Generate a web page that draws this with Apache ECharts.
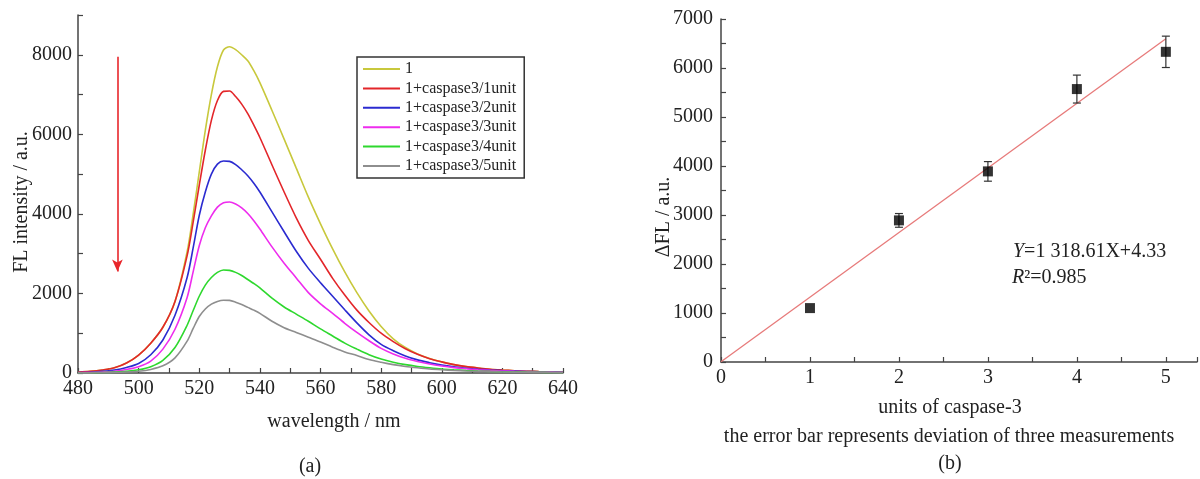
<!DOCTYPE html>
<html>
<head>
<meta charset="utf-8">
<script src="https://cdn.jsdelivr.net/npm/echarts@6/dist/echarts.min.js"></script>
<style>
html,body{margin:0;padding:0;background:#fff;}
#c{width:1200px;height:479px;}
</style>
</head>
<body>
<div id="c"></div>
<script>
// ---- Panel (a): fluorescence spectra ----
const wavelengths = [480,484,488,492,496,500,504,508,512,516,
  518,520,522,524,526,528,530,532,534,536,538,540,
  544,548,552,556,560,564,568,572,576,580,584,588,592,596,600,604,608,612,616,620,624,628,632,636,640];
const seriesNames = ['1','1+caspase3/1unit','1+caspase3/2unit','1+caspase3/3unit','1+caspase3/4unit','1+caspase3/5unit'];
const fl_0 = [20,40,75,130,250,450,750,1150,1800,3050,
  4000,5050,6100,7000,7700,8120,8200,8130,8000,7850,7600,7300,
  6600,5880,5150,4420,3750,3120,2540,2020,1560,1170,860,640,480,365,280,210,160,125,95,75,58,45,35,28,22];
const fl_1 = [20,40,75,130,250,450,750,1150,1800,2950,
  3800,4720,5600,6350,6850,7080,7090,6950,6760,6520,6230,5920,
  5230,4550,3900,3330,2860,2380,1960,1580,1270,1000,790,610,470,360,280,210,160,125,95,75,58,45,35,28,22];
const fl_2 = [10,20,40,75,140,240,460,830,1450,2400,
  3150,3960,4550,5000,5250,5330,5320,5240,5110,4960,4770,4550,
  4050,3550,3060,2630,2270,1930,1590,1260,960,720,560,430,330,260,200,155,120,95,75,60,48,38,30,24,18];
const fl_3 = [5,12,25,45,90,160,300,600,1100,1900,
  2550,3200,3650,3950,4170,4280,4300,4250,4150,4010,3830,3620,
  3170,2760,2390,2020,1740,1500,1250,1020,810,620,480,370,290,225,175,135,105,82,65,52,42,34,27,21,16];
const fl_4 = [3,6,12,22,40,80,160,320,640,1200,
  1570,1930,2210,2400,2530,2590,2580,2530,2450,2350,2250,2140,
  1880,1660,1480,1300,1110,930,750,600,460,350,270,210,165,130,100,80,63,50,40,32,26,21,17,13,10];
const fl_5 = [2,4,8,14,25,45,90,180,380,800,
  1120,1420,1610,1730,1800,1830,1825,1780,1720,1650,1580,1500,
  1300,1140,1020,900,780,650,530,440,340,270,210,165,130,100,80,64,51,41,33,27,22,18,14,11,9];
const flSeries = [fl_0, fl_1, fl_2, fl_3, fl_4, fl_5];
const flColors = ['#c8c83c','#e3262a','#2b2bd0','#ee2cee','#2ed82e','#8e8e8e'];
const arrowFrom = [493, 7950];
const arrowTo = [493, 2550];

// ---- Panel (b): calibration ----
const units = [1,2,3,4,5];
const deltaFL = [1100,2890,3890,5570,6330];
const deltaErr = [0,140,200,285,320];
const fitX = [0,5];
const fitY = [4.33,6597.38];

const FONT = 'Liberation Serif';
const AX = '#444';

const chart = echarts.init(document.getElementById('c'), null, {renderer:'canvas'});

const lineSeries = flSeries.map((arr, i) => ({
  name: seriesNames[i],
  type: 'line',
  xAxisIndex: 0, yAxisIndex: 0,
  data: wavelengths.map((w, k) => [w, arr[k]]),
  smooth: 0.3,
  showSymbol: false,
  symbol: 'none',
  lineStyle: {color: flColors[i], width: 1.6},
  itemStyle: {color: flColors[i]},
  z: 2 + i,
  markLine: i === 0 ? {
    silent: true,
    symbol: ['none','arrow'],
    symbolSize: [8, 12],
    label: {show: false},
    lineStyle: {color: '#e8262b', width: 1.6, type: 'solid'},
    data: [[{coord: arrowFrom}, {coord: arrowTo}]]
  } : undefined
}));

const axisCommon = {
  axisLine: {show: true, lineStyle: {color: AX, width: 1.5}},
  axisTick: {show: true, inside: true, length: 5, lineStyle: {color: AX, width: 1.2}},
  splitLine: {show: false},
  axisLabel: {color: '#222', fontFamily: FONT, fontSize: 20}
};

const option = {
  animation: false,
  backgroundColor: '#fff',
  grid: [
    {left: 78, top: 15, width: 485, height: 358},
    {left: 721, top: 19, width: 479, height: 343}
  ],
  xAxis: [
    Object.assign({}, axisCommon, {
      gridIndex: 0, type: 'value', min: 480, max: 640, interval: 10,
      axisLabel: Object.assign({}, axisCommon.axisLabel, {margin: 6,
        formatter: v => (v % 20 === 0 ? String(v) : '')})
    }),
    Object.assign({}, axisCommon, {
      gridIndex: 1, type: 'value', min: 0, max: 5.35, interval: 0.5,
      axisLabel: Object.assign({}, axisCommon.axisLabel, {margin: 6,
        formatter: v => (Math.abs(v - Math.round(v)) < 1e-9 ? String(Math.round(v)) : '')})
    })
  ],
  yAxis: [
    Object.assign({}, axisCommon, {
      gridIndex: 0, type: 'value', min: 0, max: 9000, interval: 1000,
      axisLabel: Object.assign({}, axisCommon.axisLabel, {margin: 6,
        formatter: v => (v % 2000 === 0 ? String(v) : '')})
    }),
    Object.assign({}, axisCommon, {
      gridIndex: 1, type: 'value', min: 0, max: 7000, interval: 500,
      axisLabel: Object.assign({}, axisCommon.axisLabel, {margin: 8,
        formatter: v => (v % 1000 === 0 ? String(v) : '')})
    })
  ],
  legend: {
    show: true,
    orient: 'vertical',
    left: 357, top: 57,
    padding: [4, 8, 4, 6],
    itemGap: 3.4,
    itemWidth: 37,
    itemHeight: 2,
    icon: 'rect',
    borderColor: '#333',
    borderWidth: 1.5,
    backgroundColor: '#fff',
    textStyle: {fontFamily: FONT, fontSize: 16, color: '#222'},
    data: seriesNames
  },
  series: lineSeries.concat([
    {
      name: 'fit', type: 'line', xAxisIndex: 1, yAxisIndex: 1,
      data: fitX.map((x, k) => [x, fitY[k]]),
      showSymbol: false, symbol: 'none',
      lineStyle: {color: '#e77a7a', width: 1.3}, z: 2
    },
    {
      name: 'err', type: 'custom', xAxisIndex: 1, yAxisIndex: 1,
      data: units.map((u, k) => [u, deltaFL[k] - deltaErr[k], deltaFL[k] + deltaErr[k]]),
      renderItem: function (params, api) {
        const x = api.value(0);
        const lo = api.coord([x, api.value(1)]);
        const hi = api.coord([x, api.value(2)]);
        if (Math.abs(lo[1] - hi[1]) < 1) return {type: 'group', children: []};
        const cw = 4;
        const st = {stroke: '#333', lineWidth: 1.2};
        return {type: 'group', children: [
          {type: 'line', shape: {x1: lo[0], y1: lo[1], x2: hi[0], y2: hi[1]}, style: st},
          {type: 'line', shape: {x1: lo[0]-cw, y1: lo[1], x2: lo[0]+cw, y2: lo[1]}, style: st},
          {type: 'line', shape: {x1: hi[0]-cw, y1: hi[1], x2: hi[0]+cw, y2: hi[1]}, style: st}
        ]};
      },
      z: 3
    },
    {
      name: 'points', type: 'scatter', xAxisIndex: 1, yAxisIndex: 1,
      data: units.map((u, k) => [u, deltaFL[k]]),
      symbol: 'rect', symbolSize: 10,
      itemStyle: {color: '#000'}, z: 4
    }
  ]),
  graphic: [
    {type: 'text', silent: true, position: [22, 202], rotation: Math.PI/2,
      style: {text: 'FL intensity / a.u.', fontFamily: FONT, fontSize: 20, fill: '#222', align: 'center', verticalAlign: 'middle'}},
    {type: 'text', silent: true, position: [334, 422],
      style: {text: 'wavelength / nm', fontFamily: FONT, fontSize: 20, fill: '#222', align: 'center', verticalAlign: 'middle'}},
    {type: 'text', silent: true, position: [310, 467],
      style: {text: '(a)', fontFamily: FONT, fontSize: 20, fill: '#222', align: 'center', verticalAlign: 'middle'}},
    {type: 'text', silent: true, position: [664, 217], rotation: Math.PI/2,
      style: {text: 'ΔFL / a.u.', fontFamily: FONT, fontSize: 20, fill: '#222', align: 'center', verticalAlign: 'middle'}},
    {type: 'text', silent: true, position: [950, 408],
      style: {text: 'units of caspase-3', fontFamily: FONT, fontSize: 20, fill: '#222', align: 'center', verticalAlign: 'middle'}},
    {type: 'text', silent: true, position: [949, 437],
      style: {text: 'the error bar represents deviation of three measurements', fontFamily: FONT, fontSize: 20, fill: '#222', align: 'center', verticalAlign: 'middle'}},
    {type: 'text', silent: true, position: [950, 464],
      style: {text: '(b)', fontFamily: FONT, fontSize: 20, fill: '#222', align: 'center', verticalAlign: 'middle'}},
    {type: 'text', silent: true, position: [1013, 252],
      style: {text: '{i|Y}=1 318.61X+4.33', fontFamily: FONT, fontSize: 20, fill: '#222', verticalAlign: 'middle',
        rich: {i: {fontStyle: 'italic', fontFamily: FONT, fontSize: 20, fill: '#222'}}}},
    {type: 'text', silent: true, position: [1012, 278],
      style: {text: '{i|R}²=0.985', fontFamily: FONT, fontSize: 20, fill: '#222', verticalAlign: 'middle',
        rich: {i: {fontStyle: 'italic', fontFamily: FONT, fontSize: 20, fill: '#222'}}}}
  ]
};
chart.setOption(option);
</script>
</body>
</html>
